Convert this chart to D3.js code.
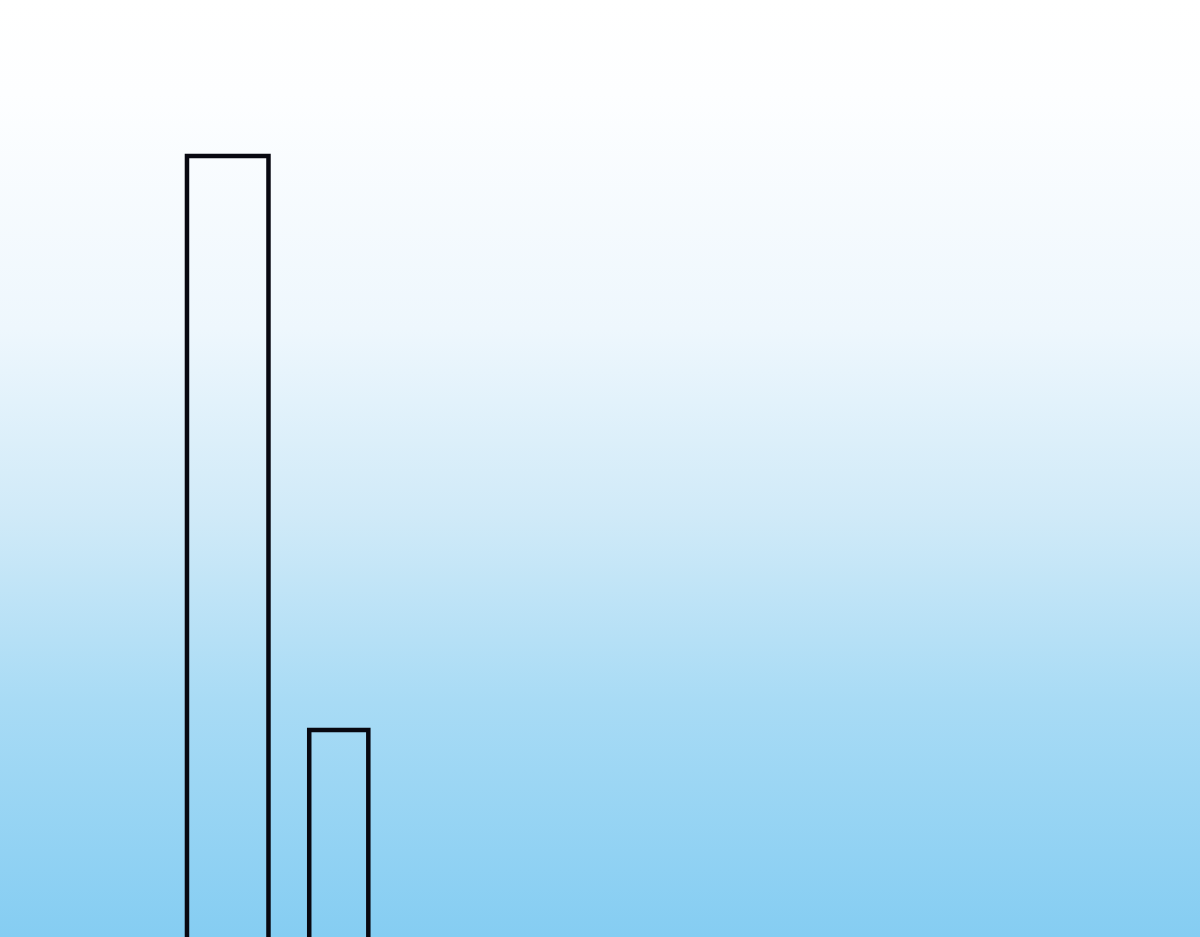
<!DOCTYPE html>
<html>
<head>
<meta charset="utf-8">
<script src="https://cdn.jsdelivr.net/npm/d3@7"></script>
<style>
  html, body { margin: 0; padding: 0; overflow: hidden; }
</style>
</head>
<body>
<script>
// bins (x start / end) and counts
var binStart = [4.5, 7.5];
var binEnd = [6.5, 8.95];
var counts = [12, 4];

var width = 1200, height = 937;

var data = binStart.map(function (s, i) {
    return { x0: s, x1: binEnd[i], count: counts[i] };
});

var svg = d3.select("body")
  .append("svg")
  .attr("width", width)
  .attr("height", height);

var grad = svg.append("defs")
  .append("linearGradient")
  .attr("id", "bg")
  .attr("x1", 0).attr("y1", 0)
  .attr("x2", 0).attr("y2", 1);

[[0, "#ffffff"], [0.1, "#fdfeff"], [0.35, "#eef7fd"], [0.55, "#d0eaf8"],
 [0.75, "#a8dbf5"], [1, "#85cdf2"]].forEach(function (s) {
    grad.append("stop").attr("offset", s[0]).attr("stop-color", s[1]);
});

svg.append("rect")
  .attr("width", width)
  .attr("height", height)
  .attr("fill", "url(#bg)");

var x = d3.scaleLinear()
  .domain([0, 29])
  .range([3.6, 3.6 + 29 * 40.75]);

// baseline sits below the visible area
var y = d3.scaleLinear()
  .domain([0, 12])
  .range([1017, 156]);

svg.selectAll("rect.bar")
  .data(data)
  .enter()
  .append("rect")
  .attr("class", "bar")
  .attr("x", function (d) { return x(d.x0); })
  .attr("width", function (d) { return x(d.x1) - x(d.x0); })
  .attr("y", function (d) { return y(d.count); })
  .attr("height", function (d) { return y(0) - y(d.count); })
  .attr("fill", "none")
  .attr("stroke", "#080810")
  .attr("stroke-width", 4.5);
</script>
</body>
</html>
